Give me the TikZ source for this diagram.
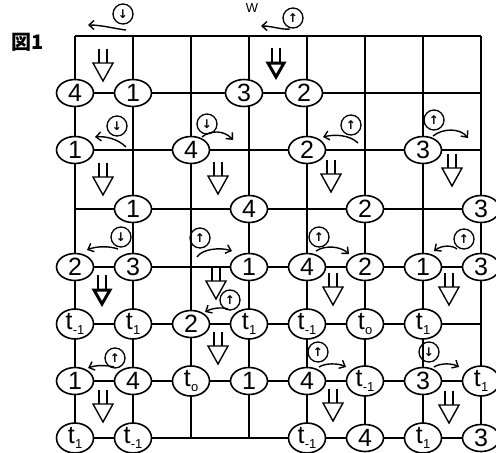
\documentclass[tikz,border=0pt]{standalone}
\usepackage{fontspec}
\usetikzlibrary{shapes.geometric,arrows.meta}
\newfontfamily\lab{Liberation Sans}
\newfontfamily\sym{DejaVu Sans}
\newfontfamily\cjk{Noto Sans CJK JP}
\newcommand\tlab[1]{t\kern0.3pt\raisebox{-5pt}{\fontsize{13}{13}\selectfont #1}}
\tikzset{
  gridline/.style={line width=1.7pt},
  pt/.style={ellipse, draw, line width=1.6pt, fill=white, minimum width=37pt,
    minimum height=27pt, inner sep=0pt, font=\lab\fontsize{25}{25}\selectfont},
  cmark/.style={circle, draw, line width=1.3pt, minimum size=20pt, inner sep=0pt,
    font=\sym\bfseries\fontsize{12}{12}\selectfont},
  turn/.style={line width=1.4pt, -{Straight Barb[length=5pt,width=9pt]}},
  hd/.pic={
    \draw[line width=1.4pt] (-4,0)--(-4,14) (4,0)--(4,14);
    \draw[line width=1.4pt, fill=white, line join=miter] (-10,14)--(10,14)--(0,32)--cycle;
  },
  hdb/.pic={
    \draw[line width=2pt] (-4,0)--(-4,14) (4,0)--(4,14);
    \draw[line width=3pt, fill=white, line join=miter] (-8,15)--(8,15)--(0,29)--cycle;
  }
}
\begin{document}
\begin{tikzpicture}[x=1pt,y=-1pt]
\useasboundingbox (0,0) rectangle (496,453);
% grid points
\foreach \x [count=\i from 0] in {75,133,191,249,307,365,423,481}{
  \foreach \y [count=\j from 0] in {36,93,150,209,267,324,381,438}{
    \coordinate (g\i-\j) at (\x,\y);
  }
}
\foreach \j in {0,...,7}{ \draw[gridline] (g0-\j) -- (g7-\j); }
\foreach \i in {0,...,7}{ \draw[gridline] (g\i-0) -- (g\i-7); }

% labels
\node[font=\cjk\bfseries\fontsize{20}{20}\selectfont] (fig) at (28,42) {図1};
\node[font=\lab\fontsize{13}{13}\selectfont] (w) at (252,8) {W};

% row 1
\node[pt] (r1a) at (g0-1) {4};
\node[pt] (r1b) at (g1-1) {1};
\node[pt] (r1c) at ([xshift=-5pt]g3-1) {3};
\node[pt] (r1d) at ([xshift=-3pt]g4-1) {2};
% row 2
\node[pt] (r2a) at (g0-2) {1};
\node[pt] (r2b) at (g2-2) {4};
\node[pt] (r2c) at (g4-2) {2};
\node[pt] (r2d) at (g6-2) {3};
% row 3
\node[pt] (r3a) at (g1-3) {1};
\node[pt] (r3b) at (g3-3) {4};
\node[pt] (r3c) at (g5-3) {2};
\node[pt] (r3d) at (g7-3) {3};
% row 4
\node[pt] (r4a) at (g0-4) {2};
\node[pt] (r4b) at (g1-4) {3};
\node[pt] (r4c) at (g3-4) {1};
\node[pt] (r4d) at (g4-4) {4};
\node[pt] (r4e) at (g5-4) {2};
\node[pt] (r4f) at (g6-4) {1};
\node[pt] (r4g) at (g7-4) {3};
% row 5
\node[pt] (r5a) at (g0-5) {\tlab{-1}};
\node[pt] (r5b) at (g1-5) {\tlab{1}};
\node[pt] (r5c) at (g2-5) {2};
\node[pt] (r5d) at (g3-5) {\tlab{1}};
\node[pt] (r5e) at (g4-5) {\tlab{-1}};
\node[pt] (r5f) at (g5-5) {\tlab{o}};
\node[pt] (r5g) at (g6-5) {\tlab{1}};
% row 6
\node[pt] (r6a) at (g0-6) {1};
\node[pt] (r6b) at (g1-6) {4};
\node[pt] (r6c) at (g2-6) {\tlab{o}};
\node[pt] (r6d) at (g3-6) {1};
\node[pt] (r6e) at (g4-6) {4};
\node[pt] (r6f) at (g5-6) {\tlab{-1}};
\node[pt] (r6g) at (g6-6) {3};
\node[pt] (r6h) at (g7-6) {\tlab{1}};
% row 7
\node[pt] (r7a) at (g0-7) {\tlab{1}};
\node[pt] (r7b) at (g1-7) {\tlab{-1}};
\node[pt] (r7c) at (g4-7) {\tlab{-1}};
\node[pt] (r7d) at (g5-7) {4};
\node[pt] (r7e) at (g6-7) {\tlab{1}};
\node[pt] (r7f) at (g7-7) {3};

% circled marks
\node[cmark] (c1) at (123,14) {↓};
\node[cmark] (c2) at (293,18) {↑};
\node[cmark] (c3) at (117,126) {↓};
\node[cmark] (c4) at (207,124) {↓};
\node[cmark] (c5) at (351,125) {↑};
\node[cmark] (c6) at (434,120) {↑};
\node[cmark] (c7) at (121,237) {↓};
\node[cmark] (c8) at (200,238) {↑};
\node[cmark] (c9) at (319,237) {↑};
\node[cmark] (c10) at (464,239) {↑};
\node[cmark] (c11) at (230,300) {↑};
\node[cmark] (c12) at (115,358) {↑};
\node[cmark] (c13) at (318,352) {↑};
\node[cmark] (c14) at (429,352) {↓};

% curved arrows: tails and heads
\coordinate (t1) at (126,30);  \coordinate (h1) at (88,25);
\coordinate (t2) at (290,29);  \coordinate (h2) at (261,26);
\coordinate (t3) at (126,147); \coordinate (h3) at (95,137);
\coordinate (t4) at (202,137); \coordinate (h4) at (233,140);
\coordinate (t5) at (358,143); \coordinate (h5) at (323,137);
\coordinate (t6) at (433,136); \coordinate (h6) at (468,138);
\coordinate (t7) at (118,249); \coordinate (h7) at (87,250);
\coordinate (t8) at (197,257); \coordinate (h8) at (232,251);
\coordinate (t9) at (316,251); \coordinate (h9) at (349,254);
\coordinate (t10) at (457,249); \coordinate (h10) at (434,251);
\coordinate (t11) at (228,309); \coordinate (h11) at (205,312);
\coordinate (t12) at (114,367); \coordinate (h12) at (88,368);
\coordinate (t13) at (319,367); \coordinate (h13) at (346,367);
\coordinate (t14) at (434,367); \coordinate (h14) at (459,367);

\draw[turn] (t1) .. controls (116,29) and (102,25) .. (h1);
\draw[turn] (t2) .. controls (282,30) and (272,26) .. (h2);
\draw[turn] (t3) .. controls (118,139) and (106,136) .. (h3);
\draw[turn] (t4) .. controls (210,130) and (224,130) .. (h4);
\draw[turn] (t5) .. controls (350,135) and (335,134) .. (h5);
\draw[turn] (t6) .. controls (443,128) and (460,128) .. (h6);
\draw[turn] (t7) .. controls (110,246) and (96,246) .. (h7);
\draw[turn] (t8) .. controls (202,249) and (220,247) .. (h8);
\draw[turn] (t9) .. controls (325,245) and (340,246) .. (h9);
\draw[turn] (t10) .. controls (452,245) and (442,245) .. (h10);
\draw[turn] (t11) .. controls (222,307) and (212,308) .. (h11);
\draw[turn] (t12) .. controls (106,365) and (96,365) .. (h12);
\draw[turn] (t13) .. controls (325,363) and (338,363) .. (h13);
\draw[turn] (t14) .. controls (440,363) and (452,363) .. (h14);

% hollow down arrows
\pic at (103,49) {hd};
\pic at (276,48) {hdb};
\pic at (103,163) {hd};
\pic at (218,162) {hd};
\pic at (331,160) {hd};
\pic at (452,154) {hd};
\pic at (216,267) {hd};
\pic at (102,275) {hdb};
\pic at (333,273) {hd};
\pic at (449,273) {hd};
\pic at (218,332) {hd};
\pic at (103,390) {hd};
\pic at (333,389) {hd};
\pic at (449,391) {hd};
\end{tikzpicture}
\end{document}
